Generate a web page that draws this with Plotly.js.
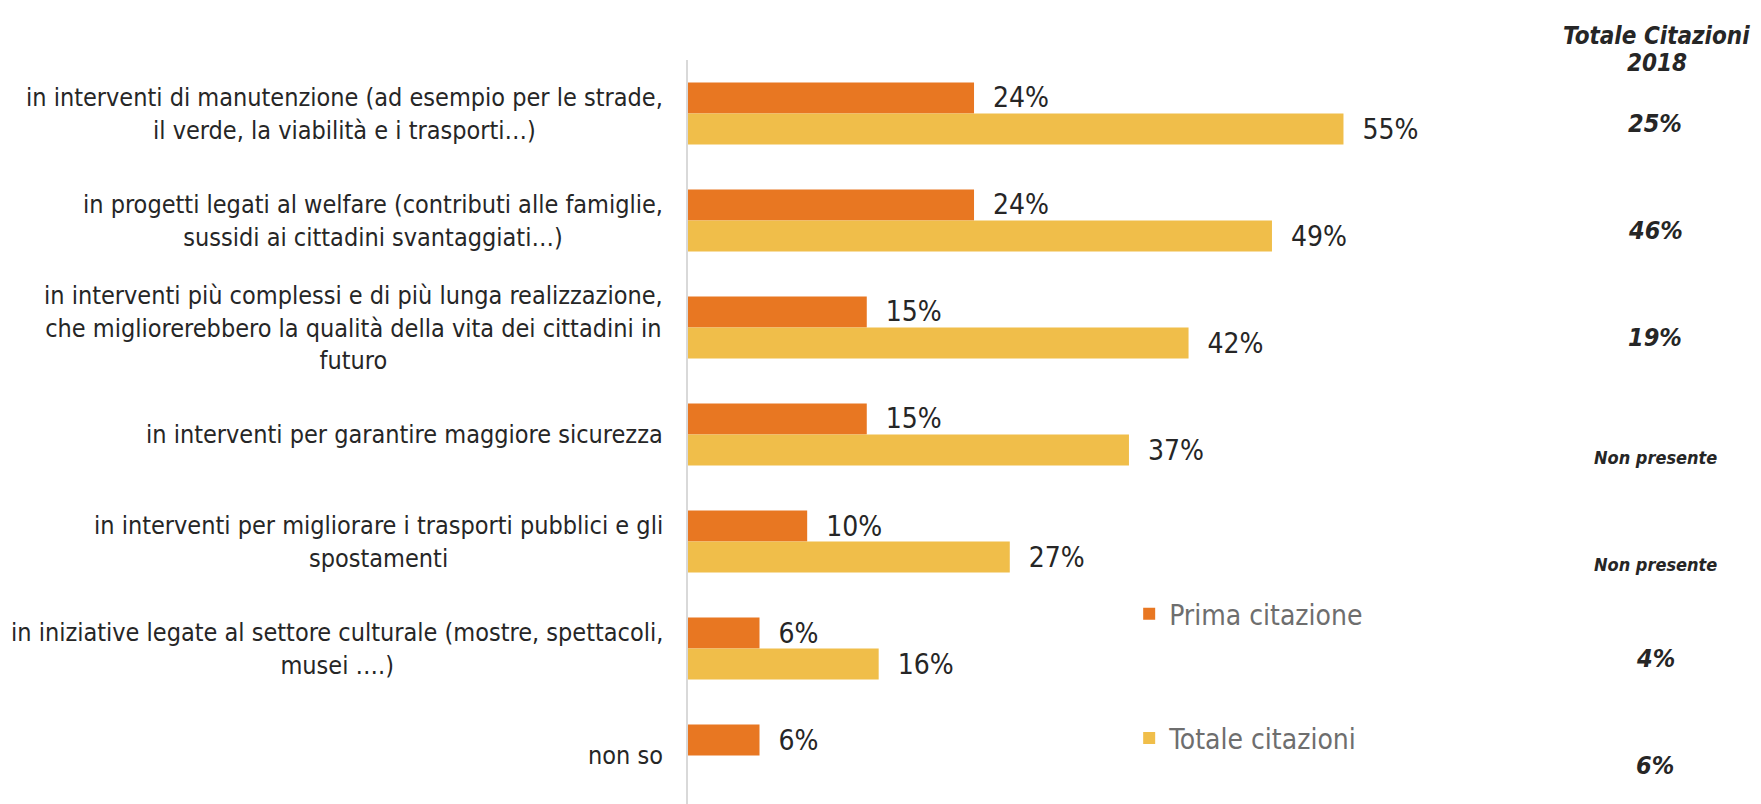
<!DOCTYPE html>
<html>
<head>
<meta charset="utf-8">
<script src="https://cdn.plot.ly/plotly-3.0.1.min.js"></script>
<style>html,body{margin:0;padding:0;background:#fff;}#chart{width:1761px;height:804px;}</style>
</head>
<body>
<div id="chart"></div>
<script>
const categories = [
  "in interventi di manutenzione (ad esempio per le strade,<br>il verde, la viabilità e i trasporti…)",
  "in progetti legati al welfare (contributi alle famiglie,<br>sussidi ai cittadini svantaggiati…)",
  "in interventi più complessi e di più lunga realizzazione,<br>che migliorerebbero la qualità della vita dei cittadini in<br>futuro",
  "in interventi per garantire maggiore sicurezza",
  "in interventi per migliorare i trasporti pubblici e gli<br>spostamenti",
  "in iniziative legate al settore culturale (mostre, spettacoli,<br>musei ….)",
  "non so"
];
const primaCitazione = [24, 24, 15, 15, 10, 6, 6];
const totaleCitazioni = [55, 49, 42, 37, 27, 16, null];
const totale2018 = ["25%", "46%", "19%", "Non presente", "Non presente", "4%", "6%"];
const seriesNames = ["Prima citazione", "Totale citazioni"];
const sideTitle = ["Totale Citazioni", "2018"];

const FONT = '"Liberation Sans Narrow", "DejaVu Sans Condensed", "Arial Narrow", Roboto, sans-serif';
const NB = '\u00a0\u00a0';

const traces = [
  {
    type: 'bar', orientation: 'h', name: seriesNames[0], legendgroup: 'a',
    y: categories.map((c, i) => i), x: primaCitazione,
    marker: {color: '#E87722'},
    text: primaCitazione.map(v => v == null ? '' : NB + v + '%'),
    textposition: 'outside', constraintext: 'none', cliponaxis: false,
    textfont: {family: FONT, size: 28, color: '#262626'},
    hoverinfo: 'skip'
  },
  {
    type: 'bar', orientation: 'h', name: seriesNames[1], legendgroup: 'b',
    y: categories.map((c, i) => i), x: totaleCitazioni,
    marker: {color: '#F0BE4A'},
    text: totaleCitazioni.map(v => v == null ? '' : NB + v + '%'),
    textposition: 'outside', constraintext: 'none', cliponaxis: false,
    textfont: {family: FONT, size: 28, color: '#262626'},
    hoverinfo: 'skip'
  }
];

const annotations = [];
categories.forEach((c, i) => {
  annotations.push({
    xref: 'paper', yref: 'y', x: -0.024, y: i, xanchor: 'right', yanchor: 'middle',
    align: 'center', text: c, showarrow: false,
    font: {family: FONT, size: 25, color: '#262626'}
  });
});
totale2018.forEach((t, i) => {
  const small = t.length > 4;
  annotations.push({
    xref: 'paper', yref: 'y', x: 1.0105, y: i, yshift: small ? -23 : -10, xanchor: 'center', yanchor: 'middle',
    text: '<b><i>' + t + '</i></b>', showarrow: false,
    font: {family: FONT, size: small ? 18 : 25, color: '#262626'}
  });
});
annotations.push({
  xref: 'paper', yref: 'paper', x: 1.0125, y: 1.032, xanchor: 'center', yanchor: 'middle',
  text: '<b><i>' + sideTitle[0] + '</i></b>', showarrow: false,
  font: {family: FONT, size: 24, color: '#262626'}
});
annotations.push({
  xref: 'paper', yref: 'paper', x: 1.0125, y: 0.996, xanchor: 'center', yanchor: 'middle',
  text: '<b><i>' + sideTitle[1] + '</i></b>', showarrow: false,
  font: {family: FONT, size: 24, color: '#262626'}
});

const layout = {
  width: 1761, height: 804,
  margin: {l: 688, r: 116, t: 60, b: 0, pad: 0},
  paper_bgcolor: '#ffffff', plot_bgcolor: '#ffffff',
  barmode: 'group', bargap: 0.42, bargroupgap: 0,
  showlegend: true,
  legend: {
    x: 0.461, y: 0.289, xanchor: 'left', yanchor: 'top',
    traceorder: 'grouped', tracegroupgap: 85,
    font: {family: FONT, size: 28, color: '#6E6E6E'},
    bgcolor: 'rgba(0,0,0,0)', borderwidth: 0
  },
  xaxis: {
    range: [0, 80.3], showgrid: false, zeroline: false, showticklabels: false,
    showline: false, ticks: ''
  },
  yaxis: {
    type: 'linear', range: [6.453, -0.5], showgrid: false, zeroline: false,
    showticklabels: false, ticks: '', showline: true, linecolor: '#D9D9D9', linewidth: 2
  },
  annotations: annotations,
  font: {family: FONT}
};

Plotly.newPlot('chart', traces, layout, {staticPlot: true, displayModeBar: false});
</script>
</body>
</html>
